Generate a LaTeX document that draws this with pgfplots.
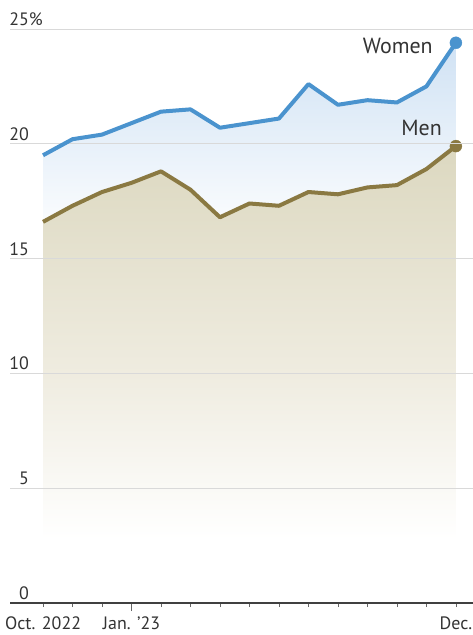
\documentclass[border=0pt]{standalone}
\usepackage{pgfplots}
\pgfplotsset{compat=1.18}
\usepackage{pgfplotstable}
\usepackage{fontspec}
\setmainfont{PT Sans}

\definecolor{womenblue}{HTML}{4A93CE}
\definecolor{menolive}{HTML}{8A7942}
\definecolor{womenfill}{HTML}{D0E2F4}
\definecolor{menfill}{HTML}{DCD8C0}
\definecolor{menmid}{HTML}{EFECE0}
\definecolor{gridgray}{HTML}{D9D9D9}
\definecolor{txt}{HTML}{333333}

% fades: the middle 25bp..75bp of each shading covers the filled area (value 0 to top)
\pgfdeclareverticalshading{womenshade}{100bp}{color(0bp)=(white); color(57bp)=(white); color(75bp)=(womenfill); color(100bp)=(womenfill)}
\pgfdeclareverticalshading{menshade}{100bp}{color(0bp)=(white); color(32bp)=(white); color(50bp)=(menmid); color(75bp)=(menfill); color(100bp)=(menfill)}

% months since Oct. 2022, share in percent
\pgfplotstableread{
m  women men
0  19.5  16.6
1  20.2  17.3
2  20.4  17.9
3  20.9  18.3
4  21.4  18.8
5  21.5  18.0
6  20.7  16.8
7  20.9  17.4
8  21.1  17.3
9  22.6  17.9
10 21.7  17.8
11 21.9  18.1
12 21.8  18.2
13 22.5  18.9
14 24.4  19.9
}\rates

\begin{document}
\begin{tikzpicture}
\begin{axis}[
    set layers,
    scale only axis,
    width=463bp, height=574bp,
    xmin=-1.12, xmax=14.58,
    ymin=0, ymax=25,
    clip=false,
    axis on top,
    axis x line*=bottom,
    axis y line*=left,
    axis line style={-},
    x axis line style={draw=black!75, line width=1.2bp},
    y axis line style={draw=none},
    xtick={0,...,14},
    xticklabels={Oct. 2022,,,Jan. '23,,,,,,,,,,,Dec.},
    extra x ticks={3},
    extra x tick labels={},
    extra x tick style={major tick length=8bp},
    tick align=outside,
    major tick length=4bp,
    xtick style={draw=black!60, line width=0.8bp},
    ytick style={draw=none},
    xticklabel style={font=\fontsize{18}{20}\selectfont, text=txt, inner sep=0pt, yshift=-10bp},
    ytick={0,5,10,15,20,25},
    yticklabels={},
    ymajorgrids,
    grid style={gridgray, line width=0.8bp},
    /pgf/number format/assume math mode=true,
]
% fills
\addplot[draw=none, shading=womenshade] table[x=m, y=women] {\rates} \closedcycle;
\addplot[draw=none, shading=menshade] table[x=m, y=men] {\rates} \closedcycle;
% lines and end points above the grid
\addplot[on layer=axis foreground, womenblue, line width=4bp, line join=round] table[x=m, y=women] {\rates};
\addplot[on layer=axis foreground, menolive, line width=4bp, line join=round] table[x=m, y=men] {\rates};
\addplot[on layer=axis foreground, only marks, mark=*, mark size=6bp, color=womenblue, skip coords between index={0}{14}]
    table[x=m, y=women] {\rates};
\addplot[on layer=axis foreground, only marks, mark=*, mark size=6bp, color=menolive, skip coords between index={0}{14}]
    table[x=m, y=men] {\rates};
% y tick labels sit above the grid lines
\node[anchor=south east, inner sep=0pt, text=txt, font=\fontsize{18}{20}\selectfont] at (axis cs:-0.47,0) [yshift=3bp] {0};
\node[anchor=south east, inner sep=0pt, text=txt, font=\fontsize{18}{20}\selectfont] at (axis cs:-0.47,5) [yshift=3bp] {5};
\node[anchor=south east, inner sep=0pt, text=txt, font=\fontsize{18}{20}\selectfont] at (axis cs:-0.47,10) [yshift=3bp] {10};
\node[anchor=south east, inner sep=0pt, text=txt, font=\fontsize{18}{20}\selectfont] at (axis cs:-0.47,15) [yshift=3bp] {15};
\node[anchor=south east, inner sep=0pt, text=txt, font=\fontsize{18}{20}\selectfont] at (axis cs:-0.47,20) [yshift=3bp] {20};
\node[anchor=south east, inner sep=0pt, text=txt, font=\fontsize{18}{20}\selectfont] at (axis cs:-0.47,25) [yshift=3bp] {25\rlap{\%}};
% series labels
\node[anchor=east, inner sep=0pt, text=txt, font=\fontsize{22}{24}\selectfont] at (axis cs:13.22,24.26) {Women};
\node[anchor=east, inner sep=0pt, text=txt, font=\fontsize{22}{24}\selectfont] at (axis cs:13.53,20.69) {Men};
\end{axis}
\pgfresetboundingbox
\path[use as bounding box] (-10bp,-32bp) rectangle (463bp,603bp);
\end{tikzpicture}
\end{document}
